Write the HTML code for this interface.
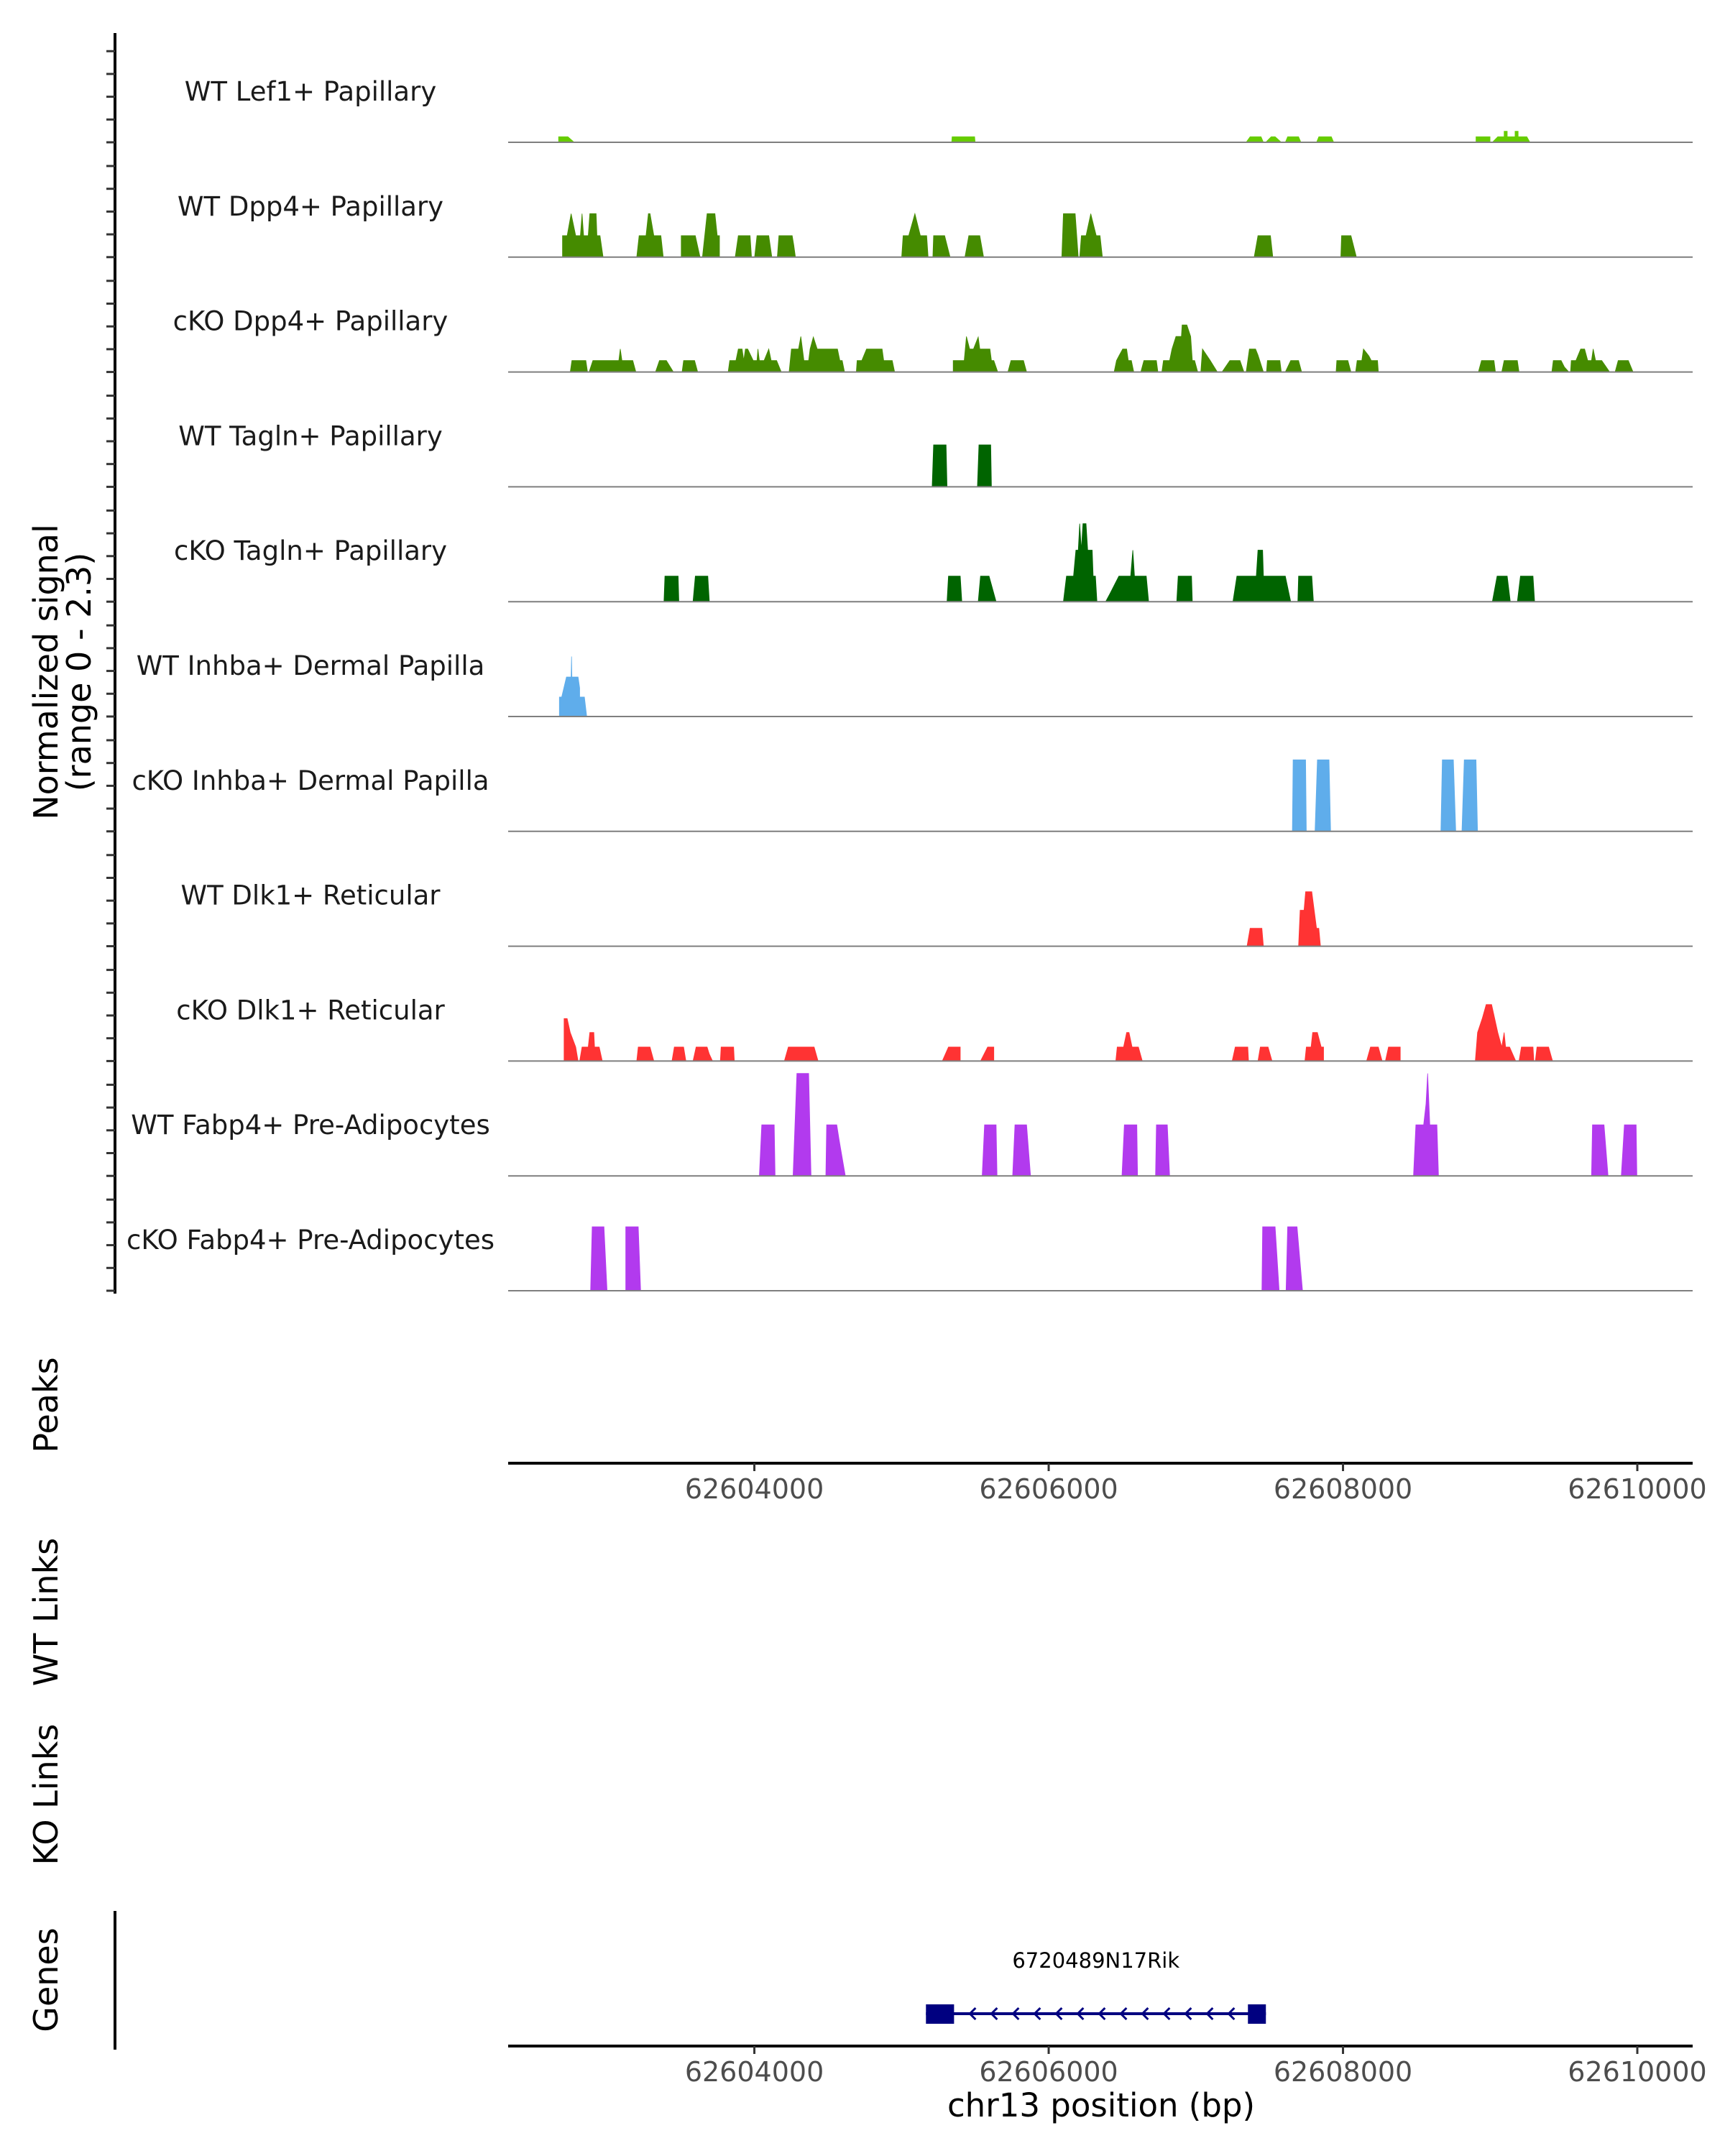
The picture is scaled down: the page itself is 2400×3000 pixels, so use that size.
<!DOCTYPE html>
<html><head><meta charset="utf-8"><style>
html,body{margin:0;padding:0;background:#fff;}
svg{display:block;font-family:"DejaVu Sans","Liberation Sans",sans-serif;}
</style></head><body>
<svg id="chart" width="2400" height="3000" viewBox="0 0 2400 3000" xmlns="http://www.w3.org/2000/svg">
<rect x="0" y="0" width="2400" height="3000" fill="#fff"/>
<g id="tracks"></g>
<text transform="translate(80,935) rotate(-90)" text-anchor="middle" font-size="46" fill="#000">Normalized signal</text>
<text transform="translate(126,935) rotate(-90)" text-anchor="middle" font-size="46" fill="#000">(range 0 - 2.3)</text>
<text transform="translate(80,1955) rotate(-90)" text-anchor="middle" font-size="46" fill="#000">Peaks</text>
<text transform="translate(80,2243) rotate(-90)" text-anchor="middle" font-size="46" fill="#000">WT Links</text>
<text transform="translate(80,2497) rotate(-90)" text-anchor="middle" font-size="46" fill="#000">KO Links</text>
<text transform="translate(80,2755) rotate(-90)" text-anchor="middle" font-size="46" fill="#000">Genes</text>
<line x1="160" y1="2659" x2="160" y2="2852" stroke="#000" stroke-width="4"/>
<g id="axes"></g>
<g id="genes"></g>
<text x="1532" y="2945" text-anchor="middle" font-size="45" fill="#000">chr13 position (bp)</text>
</svg>
<script>
const dataOrigin = 62599982;
const xDomain = [62602327, 62610376];
const yMax = 2.3;
const trackNames = ["WT Lef1+ Papillary","WT Dpp4+ Papillary","cKO Dpp4+ Papillary","WT Tagln+ Papillary","cKO Tagln+ Papillary","WT Inhba+ Dermal Papilla","cKO Inhba+ Dermal Papilla","WT Dlk1+ Reticular","cKO Dlk1+ Reticular","WT Fabp4+ Pre-Adipocytes","cKO Fabp4+ Pre-Adipocytes"];
const trackColors = ["#66cc00","#458b00","#458b00","#006400","#006400","#5fadeb","#5fadeb","#ff3333","#ff3333","#b23aee","#b23aee"];
const xTicks = [62604000, 62606000, 62608000, 62610000];
const xTickLabels = ["62604000","62606000","62608000","62610000"];
const geneName = "6720489N17Rik";
const geneExons = [[5184,5375],[7372,7494]];
const geneSpan = [5184, 7494];

const wtLef1 = [[2688,0],[2688,.11],[2751,.11],[2794,0],[5359,0],[5362,.11],[5515,.11],[5518,0],[7360,0],[7387,.11],[7461,.11],[7477,0],[7493,0],[7530,.11],[7557,.11],[7599,0],[7626,0],[7642,.11],[7716,.11],[7732,0],[7838,0],[7854,.11],[7939,.11],[7955,0],[8922,0],[8922,.11],[9017,.11],[9017,0],[9033,0],[9070,.11],[9113,.11],[9113,.22],[9134,.22],[9134,.11],[9187,.11],[9187,.22],[9208,.22],[9208,.11],[9267,.11],[9288,0]];
const wtDpp4 = [[2714,0],[2714,.43],[2746,.43],[2773,.87],[2804,.43],[2836,.43],[2847,.87],[2858,.43],[2889,.43],[2900,.87],[2943,.87],[2948,.43],[2969,.43],[2990,0],
[3219,0],[3235,.43],[3282,.43],[3298,.87],[3309,.87],[3335,.43],[3383,.43],[3399,0],
[3521,0],[3521,.43],[3617,.43],[3649,0],[3665,0],[3697,.87],[3750,.87],[3766,.43],[3781,.43],[3781,0],
[3888,0],[3909,.43],[3989,.43],[3999,0],[4020,0],[4036,.43],[4116,.43],[4137,0],[4174,0],[4185,.43],[4275,.43],[4286,.24],[4297,0],
[5019,0],[5029,.43],[5067,.43],[5109,.87],[5146,.43],[5189,.43],[5199,0],[5231,0],[5236,.43],[5311,.43],[5348,0],[5449,0],[5475,.43],[5550,.43],[5576,0],
[6107,0],[6118,.87],[6198,.87],[6219,0],[6229,0],[6240,.43],[6272,.43],[6304,.87],[6341,.43],[6367,.43],[6383,0],
[7414,0],[7440,.43],[7525,.43],[7541,0],[8003,0],[8008,.43],[8072,.43],[8109,0]];
const koDpp4 = [[2767,0],[2778,.23],[2873,.23],[2884,0],[2895,0],[2921,.23],[3097,.23],[3107,.46],[3118,.23],[3192,.23],[3213,0],
[3346,0],[3373,.23],[3420,.23],[3468,0],[3527,0],[3537,.23],[3612,.23],[3633,0],
[3840,0],[3851,.23],[3893,.23],[3909,.46],[3935,.46],[3946,.23],[3957,.46],[3973,.46],[4010,.23],[4036,.23],[4042,.46],[4052,.23],[4084,.23],[4116,.46],[4132,.23],[4169,.23],[4201,0],
[4254,0],[4270,.46],[4318,.46],[4334,.71],[4355,.23],[4387,.23],[4397,.46],[4419,.70],[4445,.46],[4583,.46],[4599,.23],[4615,.23],[4631,0],
[4711,0],[4716,.23],[4748,.23],[4780,.46],[4886,.46],[4897,.23],[4955,.23],[4971,0],
[5369,0],[5369,.23],[5444,.23],[5459,.71],[5481,.46],[5507,.46],[5539,.70],[5550,.46],[5619,.46],[5629,.23],[5645,.23],[5672,0],
[5741,0],[5762,.23],[5847,.23],[5868,0],
[6463,0],[6479,.23],[6495,.32],[6521,.46],[6548,.46],[6559,.23],[6580,.23],[6596,0],[6644,0],[6665,.23],[6750,.23],[6760,0],
[6787,0],[6798,.23],[6840,.23],[6856,.46],[6883,.71],[6920,.71],[6925,.94],[6957,.94],[6983,.71],[6994,.23],[7010,.23],[7031,0],
[7052,0],[7063,.46],[7116,.23],[7164,0],[7196,0],[7249,.23],[7318,.23],[7345,0],[7360,0],[7382,.46],[7424,.46],[7440,.34],[7477,0],
[7498,0],[7504,.23],[7589,.23],[7599,0],[7626,0],[7663,.23],[7716,.23],[7737,0],
[7971,0],[7976,.23],[8051,.23],[8072,0],[8104,0],[8114,.23],[8146,.23],[8157,.46],[8194,.32],[8210,.23],[8253,.23],[8258,0],
[8938,0],[8959,.23],[9044,.23],[9054,0],[9097,0],[9113,.23],[9203,.23],[9214,0],[9437,0],[9447,.23],[9500,.23],[9522,.10],[9553,0],
[9564,0],[9569,.23],[9601,.23],[9633,.46],[9660,.46],[9681,.23],[9707,.23],[9718,.46],[9734,.23],[9776,.23],[9830,0],
[9867,0],[9888,.23],[9957,.23],[9989,0]];
const wtTagln = [[5226,0],[5236,.84],[5321,.84],[5327,0],[5534,0],[5544,.84],[5624,.84],[5629,0]];
const koTagln = [[3404,0],[3410,.51],[3500,.51],[3505,0],[3601,0],[3617,.51],[3702,.51],[3712,0],
[5327,0],[5337,.51],[5417,.51],[5428,0],[5539,0],[5555,.51],[5613,.51],[5661,0],
[6118,0],[6139,.51],[6187,.51],[6203,1.03],[6219,1.03],[6229,1.56],[6240,1.03],[6251,1.56],[6272,1.56],[6283,1.03],[6314,1.03],[6320,.51],[6336,.51],[6346,0],
[6405,0],[6436,.17],[6495,.51],[6575,.51],[6590,1.03],[6601,.51],[6681,.51],[6697,0],[6888,0],[6898,.51],[6989,.51],[6994,0],
[7270,0],[7297,.51],[7429,.51],[7440,1.03],[7472,1.03],[7477,.51],[7626,.51],[7663,0],[7711,0],[7716,.51],[7806,.51],[7817,0],
[9033,0],[9065,.51],[9134,.51],[9155,0],[9203,0],[9224,.51],[9309,.51],[9320,0]];
const wtInhba = [[2693,0],[2693,.39],[2709,.39],[2741,.79],[2773,.79],[2776,1.2],[2778,.79],[2820,.79],[2831,.57],[2831,.39],[2863,.39],[2879,0]];
const koInhba = [[7674,0],[7679,1.43],[7764,1.43],[7769,0],[7828,0],[7844,1.43],[7923,1.43],[7934,0],[8683,0],[8693,1.43],[8768,1.43],[8784,0],[8826,0],[8842,1.43],[8922,1.43],[8932,0]];
const wtDlk1 = [[7366,0],[7387,.36],[7467,.36],[7477,0],[7716,0],[7727,.72],[7753,.72],[7764,1.09],[7806,1.09],[7838,.36],[7854,.36],[7865,0]];
const koDlk1 = [[2725,0],[2725,.85],[2746,.85],[2767,.57],[2804,.28],[2820,0],[2831,0],[2847,.28],[2889,.28],[2900,.57],[2927,.57],[2932,.28],[2964,.28],[2985,0],
[3219,0],[3229,.28],[3309,.28],[3335,0],[3458,0],[3474,.28],[3537,.28],[3553,0],[3601,0],[3622,.28],[3697,.28],[3712,.14],[3734,0],[3787,0],[3792,.28],[3877,.28],[3882,0],
[4222,0],[4249,.28],[4424,.28],[4451,0],[5295,0],[5337,.28],[5417,.28],[5417,0],[5555,0],[5603,.28],[5645,.28],[5645,0],
[6474,0],[6484,.28],[6527,.28],[6548,.57],[6564,.57],[6585,.28],[6628,.28],[6654,0],
[7265,0],[7286,.28],[7371,.28],[7376,0],[7440,0],[7456,.28],[7509,.28],[7536,0],[7759,0],[7769,.28],[7801,.28],[7812,.57],[7844,.57],[7870,.28],[7886,.28],[7886,0],
[8178,0],[8205,.28],[8258,.28],[8284,0],[8306,0],[8327,.28],[8407,.28],[8407,0],
[8917,0],[8932,.57],[8964,.85],[8991,1.13],[9028,1.13],[9070,.57],[9097,.28],[9113,.57],[9123,.28],[9150,.28],[9192,0],
[9214,0],[9230,.28],[9309,.28],[9315,0],[9325,0],[9336,.28],[9415,.28],[9442,0]];
const wtFabp4 = [[4052,0],[4068,1.02],[4153,1.02],[4159,0],[4281,0],[4307,2.05],[4387,2.05],[4403,0],[4504,0],[4509,1.02],[4578,1.02],[4594,.72],[4636,0],
[5566,0],[5582,1.02],[5661,1.02],[5667,0],[5773,0],[5789,1.02],[5868,1.02],[5895,0],[6516,0],[6532,1.02],[6617,1.02],[6622,0],[6744,0],[6750,1.02],[6824,1.02],[6840,0],
[8497,0],[8513,1.02],[8566,1.02],[8582,1.44],[8593,2.05],[8608,1.02],[8656,1.02],[8667,0],[9707,0],[9713,1.02],[9792,1.02],[9819,0],[9909,0],[9930,1.02],[10010,1.02],[10015,0]];
const koFabp4 = [[2905,0],[2916,1.28],[2996,1.28],[3017,0],[3144,0],[3144,1.28],[3229,1.28],[3245,0],[7467,0],[7472,1.28],[7557,1.28],[7584,0],[7631,0],[7642,1.28],[7706,1.28],[7743,0]];
const trackData = [wtLef1, wtDpp4, koDpp4, wtTagln, koTagln, wtInhba, koInhba, wtDlk1, koDlk1, wtFabp4, koFabp4];

const NS = "http://www.w3.org/2000/svg";
const plotL = 707, plotR = 2355, firstBase = 198, trackStep = 159.8, trackH = 160;
function xs(p){ return plotL + (p - xDomain[0]) / (xDomain[1] - xDomain[0]) * (plotR - plotL); }
function xd(p){ return xs(dataOrigin + p); }
function ys(v, i){ return firstBase + trackStep * i - v / yMax * trackH; }
function mk(tag, attrs, parent){ const e = document.createElementNS(NS, tag); for (const k in attrs) e.setAttribute(k, attrs[k]); parent.appendChild(e); return e; }

const tg = document.getElementById('tracks');
const ax = document.getElementById('axes');
const la = mk('line', {x1:160, y1:46, x2:160, y2:firstBase + trackStep*10 + 4, stroke:'#000', 'stroke-width':4}, ax);


trackNames.forEach((name, i) => {
  const base = firstBase + trackStep * i;
  for (let k = 0; k < 5; k++) {
    const t = mk('line', {x1:148, x2:160, y1:base - k*31.7, y2:base - k*31.7, stroke:'#333', 'stroke-width':3}, ax);
    
    
  }
  const lbl = mk('text', {x:432, y:base - 58, 'text-anchor':'middle', 'font-size':37, fill:'#1a1a1a'}, tg);
  lbl.textContent = name;
  
  
  const pts = trackData[i];
  let d = 'M' + xd(pts[0][0]).toFixed(1) + ',' + base.toFixed(1);
  pts.forEach(p => { d += 'L' + xd(p[0]).toFixed(1) + ',' + ys(p[1], i).toFixed(1); });
  d += 'L' + xd(pts[pts.length-1][0]).toFixed(1) + ',' + base.toFixed(1) + 'Z';
  const area = mk('path', {d:d, fill:trackColors[i], stroke:trackColors[i], 'stroke-width':0.8}, tg);
  
  
  const bl = mk('line', {x1:plotL, x2:plotR, y1:base, y2:base, stroke:'#7f7f7f', 'stroke-width':2}, tg);
  
  
});
[2036, 2847].forEach(yy => {
  const a = mk('line', {x1:plotL, x2:plotR, y1:yy, y2:yy, stroke:'#000', 'stroke-width':4}, ax);
  
  
  xTicks.forEach((t, j) => {
    const tk = mk('line', {x1:xs(t), x2:xs(t), y1:yy, y2:yy + 11, stroke:'#333', 'stroke-width':3}, ax);
    
    
    const tl = mk('text', {x:xs(t), y:yy + 49, 'text-anchor':'middle', 'font-size':38, fill:'#4d4d4d'}, ax);
    tl.textContent = xTickLabels[j];
    
    
  });
});
const gg = document.getElementById('genes');
const gy = 2802;
const gl = mk('line', {x1:xd(geneSpan[0]), x2:xd(geneSpan[1]), y1:gy, y2:gy, stroke:'#000080', 'stroke-width':4}, gg);


for (let cx = xd(geneExons[0][1]) + 25; cx < xd(geneExons[1][0]) - 8; cx += 30) {
  const c = mk('path', {d:'M' + (cx+5) + ',' + (gy-8) + 'L' + (cx-3) + ',' + gy + 'L' + (cx+5) + ',' + (gy+8), fill:'none', stroke:'#000080', 'stroke-width':3}, gg);
  
  
}
geneExons.forEach(ex => {
  const r = mk('rect', {x:xd(ex[0]), y:gy - 13, width:xd(ex[1]) - xd(ex[0]), height:27, fill:'#000080'}, gg);
  
  
});
const gt = mk('text', {x:(xd(geneSpan[0]) + xd(geneSpan[1]))/2, y:2738, 'text-anchor':'middle', 'font-size':29, fill:'#000'}, gg);
gt.textContent = geneName;


</script>
</body></html>
